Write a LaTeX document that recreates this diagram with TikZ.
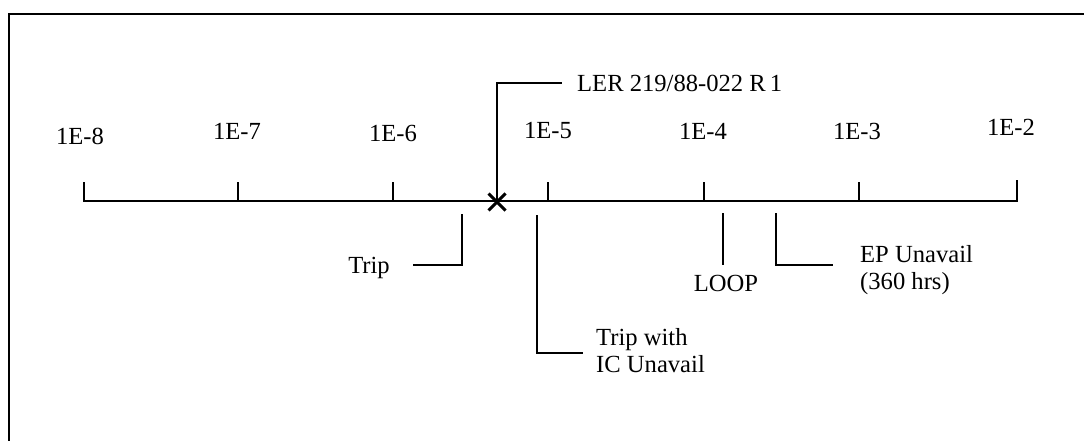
\documentclass[tikz,border=0pt]{standalone}
\usepackage{fontspec}
\setmainfont{Liberation Serif}
\usetikzlibrary{shapes.misc}
\begin{document}
\begin{tikzpicture}[x=1pt,y=-1pt,
  lbl/.style={inner sep=0pt,font=\fontsize{24.6}{27}\selectfont},
  ln/.style={line width=1.8pt,line cap=butt,line join=miter},
  frame/.style={line width=2pt}]
\useasboundingbox (0,0) rectangle (1084,441);
% frame (top and left edges visible)
\draw[frame] (1084,14) -- (9,14) -- (9,441);
% axis
\coordinate (a0) at (84,201);
\coordinate (a6) at (1017,201);
\draw[ln] (84,182) -- (a0) -- (a6) -- (1017,180);
\foreach \x/\n in {238/1,393/2,548/3,704/4,859/5}{
  \draw[ln] (\x,201) -- (\x,182);
}
% tick labels
\node[lbl] (l8) at (80,136) {1E-8};
\node[lbl] (l7) at (237,131) {1E-7};
\node[lbl] (l6) at (393,133) {1E-6};
\node[lbl] (l5) at (548,131) {1E-5};
\node[lbl] (l4) at (703,131) {1E-4};
\node[lbl] (l3) at (857,131) {1E-3};
\node[lbl] (l2) at (1011,127) {1E-2};
% LER marker
\node[cross out,draw,line width=3pt,minimum size=14pt,inner sep=0pt] (xm) at (497,202) {};
\node[lbl,anchor=west] (ler) at (577,83) {LER 219/88-022 R\,1};
\coordinate (lerend) at (562,83);
\draw[ln] (xm.center) |- (lerend);
% Trip
\node[lbl] (trip) at (369,268) {Trip};
\coordinate (tripTop) at (462,214);
\coordinate (tripEnd) at (413,265);
\draw[ln] (tripTop) |- (tripEnd);
% Trip with IC Unavail
\node[lbl,anchor=west,align=left] (tic) at (596,351) {Trip with\\IC Unavail};
\coordinate (ticTop) at (537,215);
\coordinate (ticEnd) at (583,353);
\draw[ln] (ticTop) |- (ticEnd);
% LOOP
\node[lbl] (loop) at (726,283) {LOOP};
\coordinate (loopTop) at (723,213);
\coordinate (loopBot) at (723,265);
\draw[ln] (loopTop) -- (loopBot);
% EP Unavail
\node[lbl,anchor=west,align=left] (ep) at (860,270) {EP Unavail\\(360 hrs)};
\coordinate (epTop) at (776,213);
\coordinate (epEnd) at (833,265);
\draw[ln] (epTop) |- (epEnd);
\end{tikzpicture}
\end{document}
